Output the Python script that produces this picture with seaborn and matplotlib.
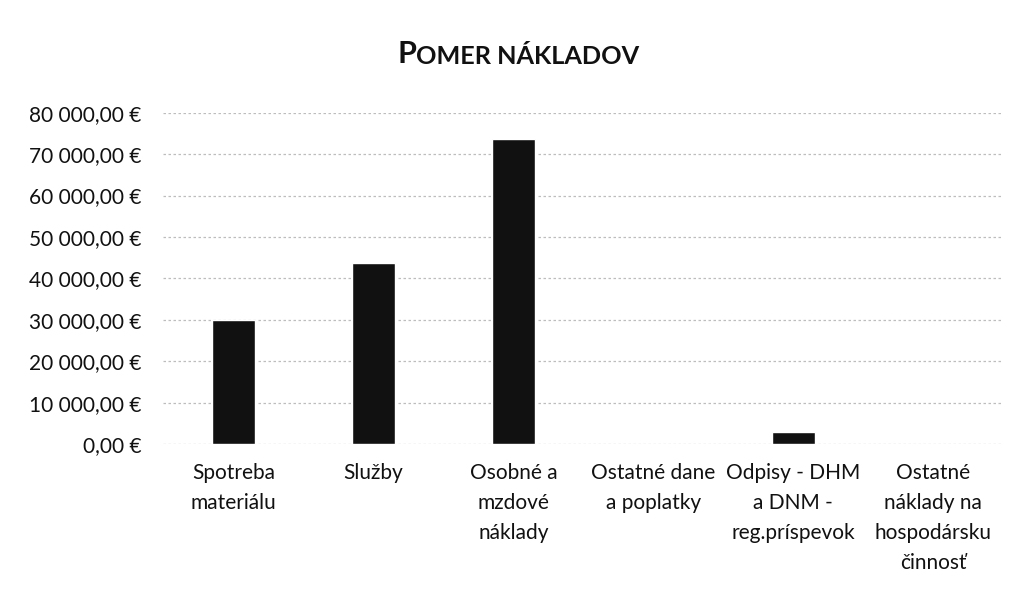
import matplotlib
matplotlib.use('Agg')
import matplotlib.pyplot as plt
import matplotlib.ticker as mticker
import numpy as np
import pandas as pd
import seaborn as sns

# data
categories = ['Spotreba\nmateriálu', 'Služby', 'Osobné a\nmzdové\nnáklady',
              'Ostatné dane\na poplatky', 'Odpisy - DHM\na DNM -\nreg.príspevok',
              'Ostatné\nnáklady na\nhospodársku\nčinnosť']
values = [29900, 43800, 73600, 0, 2900, 0]
y_ticks = [0, 10000, 20000, 30000, 40000, 50000, 60000, 70000, 80000]

sns.set_theme(style='white')
plt.rcParams['font.family'] = ['Lato', 'DejaVu Sans']

df = pd.DataFrame({'kategoria': categories, 'hodnota': values})

fig = plt.figure(figsize=(10.21, 5.91), dpi=100)
ax = fig.add_axes([0.16, 0.2487, 0.8227, 0.5606])

sns.barplot(data=df, x='kategoria', y='hodnota', color='#111111', width=0.31,
            saturation=1, ax=ax, zorder=3)

ax.set_ylim(0, 80000)
ax.set_yticks(y_ticks)


def euro(v, pos):
    s = '{:,.2f}'.format(v).replace(',', ' ').replace('.', ',')
    return s + ' €'


ax.yaxis.set_major_formatter(mticker.FuncFormatter(euro))
ax.grid(axis='y', color='#bdbdbd', linewidth=0.9, linestyle=(0, (2, 2)), zorder=0)
for s in ax.spines.values():
    s.set_visible(False)
ax.tick_params(axis='y', length=0, pad=16, labelsize=15, labelcolor='#111111')
ax.tick_params(axis='x', length=0, pad=14, labelsize=15, labelcolor='#111111')
for lab in ax.get_xticklabels():
    lab.set_linespacing(1.62)
    lab.set_verticalalignment('top')
ax.set_xlabel('')
ax.set_ylabel('')

# title in small caps
p = fig.text(0.389, 0.885, 'P', fontsize=22, fontweight='bold', color='#111111',
             ha='left', va='bottom')
ax.annotate('OMER NÁKLADOV', xy=(1, 0), xycoords=p, fontsize=18.2, fontweight='bold',
            color='#111111', ha='left', va='bottom', annotation_clip=False)

plt.savefig('out.png', dpi=100)
plt.close()
